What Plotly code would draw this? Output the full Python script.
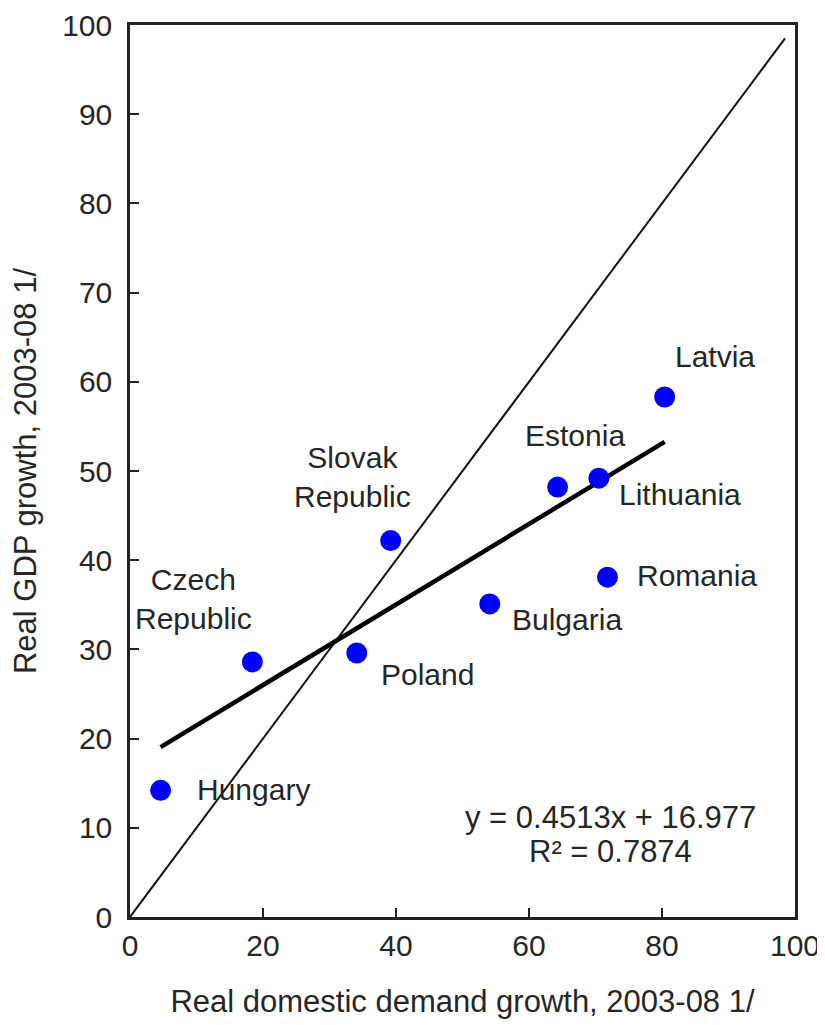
import plotly.graph_objects as go

countries = ["Hungary", "Czech Republic", "Poland", "Slovak Republic", "Bulgaria",
             "Estonia", "Lithuania", "Romania", "Latvia"]
demand_growth = [4.6, 18.4, 34.1, 39.2, 54.1, 64.3, 70.5, 71.8, 80.4]
gdp_growth = [14.2, 28.6, 29.6, 42.2, 35.1, 48.2, 49.2, 38.1, 58.3]

label_text = ["Hungary", "Czech<br>Republic", "Poland", "Slovak<br>Republic", "Bulgaria",
              "Estonia", "Lithuania", "Romania", "Latvia"]
label_x = [18.5, 9.6, 44.7, 33.4, 65.7, 66.9, 82.7, 85.3, 88.0]
label_y = [14.3, 35.6, 27.2, 49.3, 33.4, 54.0, 47.4, 38.3, 62.8]

slope = 0.4513
intercept = 16.977
r_squared = 0.7874
diag_range = [0, 98.5]

x_title = "Real domestic demand growth, 2003-08 1/"
y_title = "Real GDP growth, 2003-08 1/"
ticks = [0, 20, 40, 60, 80, 100]
yticks = list(range(0, 101, 10))

FONT = "Arial, Liberation Sans, sans-serif"
TXT = "#262626"

fig = go.Figure()

# 45-degree line
fig.add_trace(go.Scatter(x=diag_range, y=diag_range, mode="lines",
                         line=dict(color="#111111", width=2), hoverinfo="skip"))

# trend line
xmin, xmax = min(demand_growth), max(demand_growth)
fig.add_trace(go.Scatter(x=[xmin, xmax], y=[slope * xmin + intercept, slope * xmax + intercept],
                         mode="lines", line=dict(color="#000000", width=4.5), hoverinfo="skip"))

# points
fig.add_trace(go.Scatter(x=demand_growth, y=gdp_growth, mode="markers", text=countries,
                         marker=dict(color="#0000FF", size=21, line=dict(width=0))))

for t, lx, ly in zip(label_text, label_x, label_y):
    fig.add_annotation(x=lx, y=ly, text=t, showarrow=False,
                       font=dict(family=FONT, size=30, color=TXT), align="center")

fig.add_annotation(x=72.2, y=11.1,
                   text=f"y = {slope}x + {intercept}", showarrow=False,
                   font=dict(family=FONT, size=31, color=TXT))
fig.add_annotation(x=72.2, y=7.3,
                   text=f"R² = {r_squared}", showarrow=False,
                   font=dict(family=FONT, size=31, color=TXT))

fig.update_layout(
    width=825, height=1025,
    margin=dict(l=122, r=38, t=17, b=116),
    paper_bgcolor="white", plot_bgcolor="white",
    showlegend=False,
    font=dict(family=FONT, color=TXT),
)
fig.update_xaxes(range=[0, 100], tickvals=ticks, ticks="inside", ticklen=9, tickwidth=2,
                 tickcolor="#222", showline=True, linecolor="#222", linewidth=2.5, mirror=True,
                 showgrid=False, zeroline=False, automargin=False,
                 tickfont=dict(family=FONT, size=30, color=TXT),
                 title=dict(text=x_title, font=dict(family=FONT, size=31, color=TXT), standoff=30))
fig.update_yaxes(range=[0, 100], tickvals=yticks, ticks="inside", ticklen=9, tickwidth=2,
                 tickcolor="#222", showline=True, linecolor="#222", linewidth=2.5, mirror=True,
                 showgrid=False, zeroline=False, automargin=False, ticklabelstandoff=9,
                 tickfont=dict(family=FONT, size=30, color=TXT),
                 title=dict(text=y_title, font=dict(family=FONT, size=31, color=TXT), standoff=20))

fig.write_html("out.html")
